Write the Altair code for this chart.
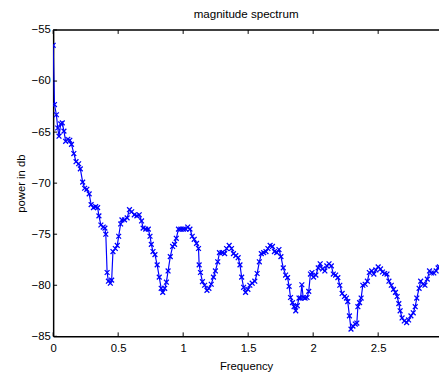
import altair as alt
import pandas as pd

# values
freq = [0.0, 0.01, 0.025, 0.035, 0.045, 0.058, 0.07, 0.083, 0.096, 0.113, 0.128, 0.141,
        0.159, 0.176, 0.196, 0.209, 0.227, 0.242, 0.259, 0.277, 0.292, 0.31, 0.327, 0.342,
        0.352, 0.367, 0.385, 0.398, 0.405, 0.415, 0.425, 0.44, 0.45, 0.46, 0.478, 0.493,
        0.504, 0.519, 0.529, 0.549, 0.569, 0.587, 0.604, 0.624, 0.644, 0.662, 0.68, 0.692,
        0.712, 0.732, 0.745, 0.755, 0.768, 0.783, 0.8, 0.816, 0.831, 0.843, 0.858, 0.871,
        0.884, 0.901, 0.919, 0.934, 0.947, 0.964, 0.982, 1.002, 1.02, 1.035, 1.052, 1.07,
        1.085, 1.103, 1.118, 1.123, 1.133, 1.148, 1.165, 1.183, 1.198, 1.216, 1.233, 1.248,
        1.266, 1.279, 1.299, 1.319, 1.334, 1.354, 1.372, 1.387, 1.405, 1.423, 1.437, 1.45,
        1.465, 1.48, 1.498, 1.513, 1.531, 1.551, 1.569, 1.586, 1.601, 1.619, 1.637, 1.652,
        1.669, 1.687, 1.702, 1.72, 1.737, 1.752, 1.77, 1.788, 1.803, 1.815, 1.826, 1.841,
        1.853, 1.866, 1.878, 1.891, 1.903, 1.913, 1.923, 1.938, 1.953, 1.966, 1.979, 1.991,
        2.003, 2.021, 2.039, 2.054, 2.072, 2.09, 2.105, 2.122, 2.14, 2.155, 2.173, 2.19,
        2.205, 2.223, 2.241, 2.256, 2.266, 2.279, 2.291, 2.306, 2.324, 2.336, 2.344, 2.357,
        2.369, 2.382, 2.4, 2.417, 2.432, 2.45, 2.467, 2.482, 2.5, 2.518, 2.533, 2.55,
        2.568, 2.583, 2.601, 2.618, 2.633, 2.646, 2.659, 2.669, 2.684, 2.701, 2.719, 2.734,
        2.752, 2.77, 2.785, 2.797, 2.815, 2.827, 2.845, 2.86, 2.878, 2.895, 2.91, 2.928,
        2.946, 2.961, 2.971]
power = [-56.5, -62.3, -63.3, -64.6, -65.4, -64.2, -64.1, -64.9, -65.9, -65.7, -65.8, -66.2,
         -67.1, -67.9, -68.1, -68.6, -69.9, -70.5, -70.6, -71.05, -72.1, -72.4, -72.3, -72.4,
         -73.2, -74.1, -74.3, -74.4, -75.0, -78.75, -79.6, -79.8, -79.5, -76.7, -76.4, -76.1,
         -75.2, -74.0, -73.6, -73.6, -73.4, -72.6, -72.8, -73.1, -73.2, -73.1, -73.7, -74.4,
         -74.5, -74.5, -75.2, -76.0, -76.7, -77.0, -78.0, -79.2, -80.3, -80.7, -80.3, -79.7,
         -78.6, -77.2, -76.2, -76.0, -75.4, -74.5, -74.5, -74.5, -74.5, -74.3, -74.5, -75.2,
         -75.5, -75.9, -76.4, -78.0, -78.75, -79.65, -80.0, -80.5, -80.3, -79.9, -79.2, -78.6,
         -77.7, -76.8, -76.8, -76.9, -76.4, -76.1, -76.4, -76.9, -77.1, -77.3, -78.0, -79.2,
         -80.2, -80.7, -80.4, -80.0, -79.8, -79.6, -78.85, -77.7, -76.9, -76.8, -76.7, -76.4,
         -76.1, -76.2, -76.7, -76.8, -76.5, -77.2, -78.3, -79.0, -79.25, -80.1, -81.2, -81.7,
         -82.1, -82.5, -82.0, -81.25, -81.25, -79.95, -81.2, -81.25, -81.2, -80.6, -78.9, -78.75,
         -79.2, -79.0, -78.3, -77.9, -78.4, -78.6, -78.1, -77.9, -78.1, -78.9, -79.0, -79.25,
         -80.0, -80.8, -81.1, -81.25, -81.6, -83.0, -84.3, -84.0, -83.8, -83.7, -82.1, -81.7,
         -81.25, -80.0, -79.9, -79.6, -78.75, -78.6, -78.9, -78.5, -78.2, -78.4, -78.7, -78.85,
         -78.9, -79.6, -80.0, -80.4, -80.7, -81.1, -81.8, -82.5, -83.2, -83.5, -83.65, -83.4,
         -83.0, -82.7, -82.1, -81.25, -80.3, -79.6, -79.9, -80.0, -79.4, -78.6, -78.8, -78.8,
         -78.6, -78.3, -78.2]
x_ticks = [0, 0.5, 1, 1.5, 2, 2.5]
y_ticks = [-85, -80, -75, -70, -65, -60, -55]
x_domain = [0, 2.968]
y_domain = [-85, -55]

W, H = 393, 312
FONT = "Liberation Sans"
BLUE = "#0000ff"

df = pd.DataFrame({"freq": freq, "power": power})
xs = alt.Scale(domain=x_domain, nice=False, zero=False)
ys = alt.Scale(domain=y_domain, nice=False, zero=False)

line = alt.Chart(df).mark_line(color=BLUE, strokeWidth=1.2, clip=True).encode(
    x=alt.X("freq:Q", scale=xs,
            axis=alt.Axis(values=x_ticks, title="Frequency", labelPadding=6,
                          titlePadding=7, labelFlush=False, labelOverlap=False,
                          labelExpr="datum.value == 0 ? '0' : format(datum.value, '')")),
    y=alt.Y("power:Q", scale=ys,
            axis=alt.Axis(values=y_ticks, title="power in db", labelPadding=3,
                          titlePadding=5, labelFlush=False, labelOverlap=False)),
)
pts = alt.Chart(df).mark_point(shape="M-1,-1L1,1M-1,1L1,-1", filled=False, color=BLUE,
                               size=24, strokeWidth=1.3, opacity=1, clip=True).encode(
    x=alt.X("freq:Q", scale=xs), y=alt.Y("power:Q", scale=ys))

xt = pd.DataFrame({"t": x_ticks})
yt = pd.DataFrame({"t": y_ticks})
tick_b = alt.Chart(xt).mark_rule(color="black", strokeWidth=1).encode(
    x=alt.X("t:Q", scale=xs), y=alt.value(H), y2=alt.value(H - 4))
tick_t = alt.Chart(xt).mark_rule(color="black", strokeWidth=1).encode(
    x=alt.X("t:Q", scale=xs), y=alt.value(0), y2=alt.value(4))
tick_l = alt.Chart(yt).mark_rule(color="black", strokeWidth=1).encode(
    y=alt.Y("t:Q", scale=ys), x=alt.value(0), x2=alt.value(4))
top_spine = alt.Chart(pd.DataFrame({"a": [0]})).mark_rule(color="black", strokeWidth=1.5).encode(
    x=alt.value(0), x2=alt.value(W + 2), y=alt.value(0))

chart = alt.layer(line, pts, tick_b, tick_t, tick_l, top_spine).properties(
    width=W, height=H,
    title=alt.TitleParams("magnitude spectrum", font=FONT, fontSize=11.8, fontWeight="normal",
                          color="black", offset=3, anchor="middle"),
    autosize=alt.AutoSizeParams(type="none"),
    padding={"left": 46, "top": 19, "right": 0, "bottom": 36},
).configure_view(stroke=None).configure_axis(
    labelFont=FONT, labelFontSize=11.5, labelColor="black",
    titleFont=FONT, titleFontSize=11.5, titleFontWeight="normal", titleColor="black",
    domainColor="black", domainWidth=1.5, ticks=False, grid=False,
)

chart.save("out.html", embed_options={"renderer": "svg", "actions": False})
